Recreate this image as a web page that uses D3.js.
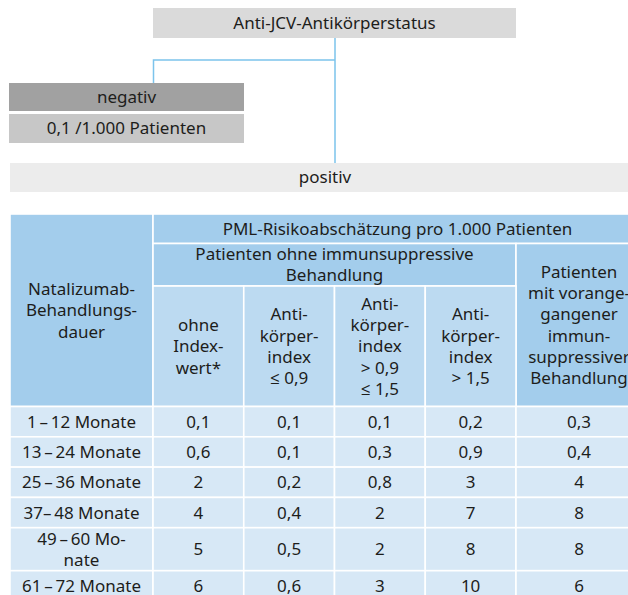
<!DOCTYPE html>
<html>
<head>
<meta charset="utf-8">
<script src="https://cdn.jsdelivr.net/npm/d3@7"></script>
<style>
  body { margin: 0; background: #fff; }
  text { font-family: "Noto Sans", "Open Sans", sans-serif; fill: #1d1d1b; }
</style>
</head>
<body>
<div id="chart"></div>
<script>
// flow chart labels
const rootLabel = "Anti-JCV-Antikörperstatus";
const negLabel = "negativ";
const negRisk = "0,1 /1.000 Patienten";
const posLabel = "positiv";

// table header texts (lines)
const headTitle = "PML-Risikoabschätzung pro 1.000 Patienten";
const headGroup = ["Patienten ohne immunsuppressive", "Behandlung"];
const headFirst = ["Natalizumab-", "Behandlungs-", "dauer"];
const headLast = ["Patienten", "mit vorange-", "gangener", "immun-", "suppressiver", "Behandlung"];
const indexCols = [
  ["ohne", "Index-", "wert*"],
  ["Anti-", "körper-", "index", "≤ 0,9"],
  ["Anti-", "körper-", "index", "> 0,9", "≤ 1,5"],
  ["Anti-", "körper-", "index", "> 1,5"]
];

// rows
const durations = [
  ["1\u2009–\u200912 Monate"],
  ["13\u2009–\u200924 Monate"],
  ["25\u2009–\u200936 Monate"],
  ["37–\u200948 Monate"],
  ["49\u2009–\u200960 Mo-", "nate"],
  ["61\u2009–\u200972 Monate"]
];

// risk per 1000 patients
const ohneIndex   = [0.1, 0.6, 2, 4, 5, 6];
const indexLe09   = [0.1, 0.1, 0.2, 0.4, 0.5, 0.6];
const index09to15 = [0.1, 0.3, 0.8, 2, 2, 3];
const indexGt15   = [0.2, 0.9, 3, 7, 8, 10];
const vorbehandelt = [0.3, 0.4, 4, 8, 8, 6];

const width = 628, height = 595;
const lineH = 21.3;
const fs = 17;

const de = d3.formatLocale({decimal: ",", thousands: ".", grouping: [3], currency: ["", " €"]});
const fmt = de.format("~g");

const svg = d3.select("#chart").append("svg")
    .attr("width", width)
    .attr("height", height);

// multi-line centred text
function label(g, lines, cx, cy) {
  const t = g.append("text")
      .attr("text-anchor", "middle")
      .style("font-size", fs + "px");
  const y0 = cy - (lines.length - 1) * lineH / 2;
  lines.forEach((l, i) => {
    t.append("tspan")
      .attr("x", cx)
      .attr("y", y0 + i * lineH)
      .attr("dy", "0.35em")
      .text(l);
  });
  return t;
}

// ---- flow chart ----
const flow = svg.append("g");
const lineCol = "#7cc4ec";

flow.append("path")
    .attr("d", "M335,38V164M335,60H153.5V83")
    .attr("fill", "none")
    .attr("stroke", lineCol)
    .attr("stroke-width", 1.5);

const boxes = [
  {x: 153, y: 8, w: 363, h: 30, fill: "#dadada", text: rootLabel},
  {x: 9, y: 83, w: 235, h: 28, fill: "#a1a1a1", text: negLabel},
  {x: 9, y: 114, w: 235, h: 29, fill: "#c7c7c7", text: negRisk},
  {x: 10, y: 163, w: 630, h: 29, fill: "#ececec", text: posLabel}
];
boxes.forEach(b => {
  flow.append("rect")
      .attr("x", b.x).attr("y", b.y)
      .attr("width", b.w).attr("height", b.h)
      .attr("fill", b.fill);
  label(flow, [b.text], b.x + b.w / 2, b.y + b.h / 2);
});

// ---- table ----
const table = svg.append("g");
const dark = "#a3cdec", mid = "#bcdaf1", light = "#d7e8f6";

const left = 10, c1 = 153, c5 = 516, right = 642;
const x = d3.scaleBand().domain(d3.range(4)).range([c1, c5]);

const yTop = 214, yHead1 = 243.5, yHead2 = 286, yHead3 = 406.5;
const singleH = 30.3, extraH = 12.7;
const rowH = durations.map(d => singleH + (d.length - 1) * extraH);
const rowY = [yHead3];
rowH.forEach((h, i) => rowY.push(rowY[i] + h));

function cell(x0, y0, x1, y1, fill, lines) {
  table.append("rect")
      .attr("x", x0).attr("y", y0)
      .attr("width", x1 - x0).attr("height", y1 - y0)
      .attr("fill", fill)
      .attr("stroke", "#fff")
      .attr("stroke-width", 1.6);
  if (lines) label(table, lines, (x0 + x1) / 2, (y0 + y1) / 2);
}

// headers
cell(left, yTop, c1, yHead3, dark, headFirst);
cell(c1, yTop, right, yHead1, dark, [headTitle]);
cell(c1, yHead1, c5, yHead2, dark, headGroup);
cell(c5, yHead1, right, yHead3, dark, headLast);
indexCols.forEach((lines, i) => {
  cell(x(i), yHead2, x(i) + x.bandwidth(), yHead3, mid, lines);
});

// body
const series = [ohneIndex, indexLe09, index09to15, indexGt15];
durations.forEach((d, r) => {
  const y0 = rowY[r], y1 = rowY[r + 1];
  cell(left, y0, c1, y1, light, d);
  series.forEach((s, i) => {
    cell(x(i), y0, x(i) + x.bandwidth(), y1, light, [fmt(s[r])]);
  });
  cell(c5, y0, right, y1, light, [fmt(vorbehandelt[r])]);
});
</script>
</body>
</html>
